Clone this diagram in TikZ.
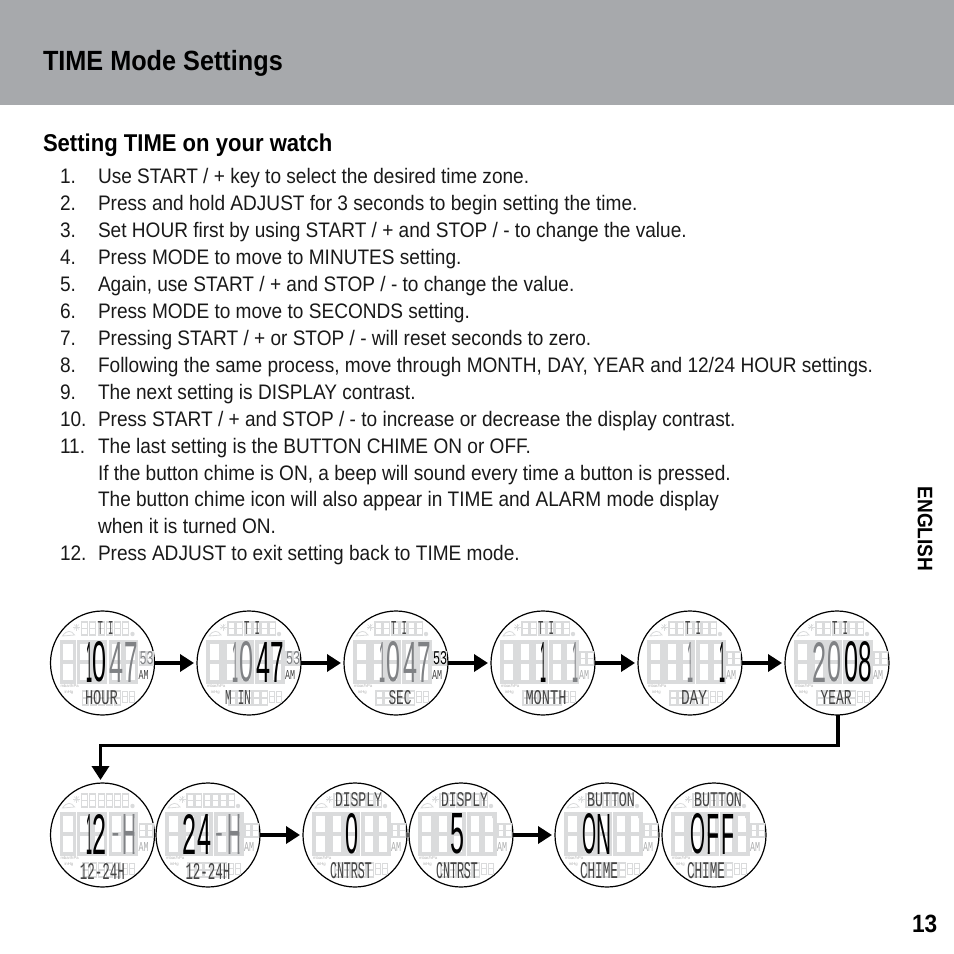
\documentclass[tikz,border=0pt]{standalone}
\usepackage{fontspec}
\usepackage{graphicx}
\usetikzlibrary{arrows.meta}
\newfontfamily\bodyf{Liberation Sans}[FakeStretch=0.908]
\newfontfamily\bigf{Liberation Sans}
\newfontfamily\lcdf{Liberation Mono}
\definecolor{hdr}{HTML}{A7A9AC}
\definecolor{gho}{HTML}{DADBDC}
\definecolor{mid}{HTML}{808285}
\definecolor{lab}{HTML}{454545}
\newcount\nn
\newcommand{\nid}{\global\advance\nn by 1 }
\tikzset{
  txt/.style={anchor=base west,inner sep=0pt,outer sep=0pt,font=\bodyf},
  body/.style={txt,font=\bodyf\fontsize{21}{25}\selectfont,text=black!90},
  face/.style={circle,draw=black,line width=1.2pt,fill=white,minimum size=104pt,inner sep=0pt,outer sep=0pt},
  arr/.style={line width=3.5pt,-{Triangle[length=14pt,width=17pt]},shorten >=3pt},
  ghostline/.style={draw=gho},
  lcdn/.style={inner sep=0pt,outer sep=0pt}
}
% ghost digit: x y w h linewidth
\newcommand{\geight}[5]{\draw[ghostline,line width=#5pt] (#1,#2) rectangle ++(#3,#4) (#1,#2+#4/2) -- ++(#3,0);}
% big digit: left x, width, colour, char
\newcommand{\bigd}[5][-1]{\nid\node[lcdn,anchor=west,name=n\the\nn] at (#2,#1) {\resizebox{#3pt}{40pt}{\color{#4}\bigf #5}};}
% dash in the big row: centre x
\newcommand{\bigdash}[1]{\nid\node[lcdn,name=n\the\nn,text=mid,font=\bigf\bfseries\fontsize{22}{22}\selectfont] at (#1,2) {-};}
% lcd text: centre x, centre y, w, h, colour, text
\newcommand{\lcd}[6]{\nid\node[lcdn,name=n\the\nn] at (#1,#2) {\resizebox{#3pt}{#4pt}{\color{#5}\lcdf #6}};}
% tiny text
\newcommand{\tinyt}[3]{\nid\node[lcdn,anchor=west,text=black!30,name=n\the\nn,font=\bigf\fontsize{4.2}{5}\selectfont] at (#1,#2) {#3};}
% base of a watch: name, cx, cy, colour of seconds, colour of AM
\newcommand{\watch}[5]{%
  \node[face] (#1) at (#2,#3) {};
  \begin{scope}[shift={(#2,#3)}]
    \foreach \gx in {-21,-13,-4,4,12,20}{\geight{\gx}{-41}{6.2}{13}{1.3}}
    \foreach \gx/\gw in {-41/13,-24/12,-9/12,8/12,22/12}{\geight{\gx}{-21}{\gw}{40}{3.4}}
    \foreach \gx in {37,44.5}{\geight{\gx}{-11}{6}{13}{1.3}}
    \foreach \gx in {-20,-12,-4,4,12}{\geight{\gx}{28}{6.2}{14}{1.3}}
    \foreach \gx in {20,27}{\geight{\gx}{28}{5.2}{11}{1}}
    \foreach \ga in {0,45,...,315}{\draw[gho,line width=.6pt] (-26,-36) -- ++(\ga:3.5);}
    \draw[gho,line width=.8pt] (-40,-27) .. controls (-36,-33) and (-31,-33) .. (-28,-28) -- cycle;
    \fill[gho] (30,-29) circle (2.2pt) (31,-21) rectangle (34,-17);
    \tinyt{-42}{23}{mbar/hPa}
    \tinyt{-38}{29}{inHg}
    \lcd{41}{12}{10}{9}{#5}{AM}
    \ifx\relax#4\relax\else\lcd{44}{-5}{14}{13}{#4}{53}\fi
  \end{scope}}
\begin{document}
\begin{tikzpicture}[x=1pt,y=-1pt]
\useasboundingbox (0,0) rectangle (954,954);
\fill[hdr] (0,0) rectangle (954,105);
\node[txt,font=\bodyf\bfseries\fontsize{27.8}{32}\selectfont] (title) at (43,70) {TIME Mode Settings};
\node[txt,font=\bodyf\bfseries\fontsize{24.3}{28}\selectfont] (sub) at (43,151) {Setting TIME on your watch};
\foreach \i/\yy/\tx in {
 1/183/{Use START / + key to select the desired time zone.},
 2/210/{Press and hold ADJUST for 3 seconds to begin setting the time.},
 3/237/{Set HOUR first by using START / + and STOP / - to change the value.},
 4/264/{Press MODE to move to MINUTES setting.},
 5/291/{Again, use START / + and STOP / - to change the value.},
 6/318/{Press MODE to move to SECONDS setting.},
 7/345/{Pressing START / + or STOP / - will reset seconds to zero.},
 8/372/{Following the same process, move through MONTH, DAY, YEAR and 12/24 HOUR settings.},
 9/399/{The next setting is DISPLAY contrast.},
 10/426/{Press START / + and STOP / - to increase or decrease the display contrast.},
 11/453/{The last setting is the BUTTON CHIME ON or OFF.},
 12/560/{Press ADJUST to exit setting back to TIME mode.}}{
  \node[body] (num\i) at (60,\yy) {\i.};
  \node[body] (line\i) at (98,\yy) {\tx};
}
\node[body] (more1) at (98,480) {If the button chime is ON, a beep will sound every time a button is pressed.};
\node[body] (more2) at (98,506) {The button chime icon will also appear in TIME and ALARM mode display};
\node[body] (more3) at (98,533) {when it is turned ON.};
\node[inner sep=0pt,rotate=-90,font=\bodyf\bfseries\fontsize{21}{26}\selectfont] (eng) at (925,529) {ENGLISH};
\node[txt,font=\bodyf\bfseries\fontsize{25}{28}\selectfont] (page) at (912,932) {13};
% Row 1
\watch{w1}{102.5}{663}{mid}{lab}
\watch{w2}{249}{663}{mid}{lab}
\watch{w3}{396}{663}{black}{lab}
\watch{w4}{543}{663}{}{gho!80!black}
\watch{w5}{690}{663}{}{gho!80!black}
\watch{w6}{837}{663}{}{gho!80!black}
\begin{scope}[shift={(102.5,663)}]
 \bigd{-16.5}{6}{black}{1}\bigd{-10}{14}{black}{0}\bigd{7}{14}{mid}{4}\bigd{21.5}{13.5}{mid}{7}
 \lcd{3}{-35}{16}{13}{lab}{T I}\lcd{-1}{34.5}{33}{14}{lab}{HOUR}
\end{scope}
\begin{scope}[shift={(249,663)}]
 \bigd{-16.5}{6}{mid}{1}\bigd{-10}{14}{mid}{0}\bigd{7}{14}{black}{4}\bigd{21.5}{13.5}{black}{7}
 \lcd{3}{-35}{16}{13}{lab}{T I}\lcd{-11}{34.5}{26}{14}{lab}{M IN}
\end{scope}
\begin{scope}[shift={(396,663)}]
 \bigd{-16.5}{6}{mid}{1}\bigd{-10}{14}{mid}{0}\bigd{7}{14}{mid}{4}\bigd{21.5}{13.5}{mid}{7}
 \lcd{3}{-35}{16}{13}{lab}{T I}\lcd{4}{34.5}{23}{14}{lab}{SEC}
\end{scope}
\begin{scope}[shift={(543,663)}]
 \bigd{-3}{6}{black}{1}\bigd{29}{6}{mid}{1}
 \lcd{3}{-35}{16}{13}{lab}{T I}\lcd{3}{34.5}{41}{14}{lab}{MONTH}
\end{scope}
\begin{scope}[shift={(690,663)}]
 \bigd{-3}{6}{mid}{1}\bigd{29}{6}{black}{1}
 \lcd{3}{-35}{16}{13}{lab}{T I}\lcd{4}{34.5}{26}{14}{lab}{DAY}
\end{scope}
\begin{scope}[shift={(837,663)}]
 \bigd{-25}{14}{mid}{2}\bigd{-10}{14}{mid}{0}\bigd{7}{14}{black}{0}\bigd{21.5}{13.5}{black}{8}
 \lcd{3}{-35}{16}{13}{lab}{T I}\lcd{-1}{34.5}{31}{14}{lab}{YEAR}
\end{scope}
% Row 2
\watch{w7}{102.5}{835}{}{gho!80!black}
\watch{w8}{208}{835}{}{gho!80!black}
\watch{w9}{355}{835}{}{gho!80!black}
\watch{w10}{461}{835}{}{gho!80!black}
\watch{w11}{607}{835}{}{gho!80!black}
\watch{w12}{714}{835}{}{gho!80!black}
\begin{scope}[shift={(102.5,835)}]
 \bigd{-16.5}{6}{black}{1}\bigd{-10}{14}{black}{2}\bigdash{13}\bigd{20}{14}{mid}{H}
 \lcd{0}{36}{45}{16}{lab}{12-24H}
\end{scope}
\begin{scope}[shift={(208,835)}]
 \bigd{-26}{14}{black}{2}\bigd{-11}{14}{black}{4}\bigdash{11}\bigd{19}{14}{mid}{H}
 \lcd{0}{36}{45}{16}{lab}{12-24H}
\end{scope}
\begin{scope}[shift={(355,835)}]
 \bigd{-10}{13}{black}{0}
 \lcd{3.5}{-35}{47}{14}{lab}{DISPLY}\lcd{-4}{36}{42}{16}{lab}{CNTRST}
\end{scope}
\begin{scope}[shift={(461,835)}]
 \bigd{-11}{14}{black}{5}
 \lcd{3.5}{-35}{47}{14}{lab}{DISPLY}\lcd{-4}{36}{42}{16}{lab}{CNTRST}
\end{scope}
\begin{scope}[shift={(607,835)}]
 \bigd{-25}{14}{black}{O}\bigd{-11}{15}{black}{N}
 \lcd{4}{-35}{48}{14}{lab}{BUTTON}\lcd{-8}{36}{38}{16}{lab}{CHIME}
\end{scope}
\begin{scope}[shift={(714,835)}]
 \bigd{-24}{15}{black}{O}\bigd{-8}{13}{black}{F}\bigd{7}{13}{black}{F}
 \lcd{4}{-35}{48}{14}{lab}{BUTTON}\lcd{-8}{36}{38}{16}{lab}{CHIME}
\end{scope}
% Connectors
\draw[arr] (w1) -- (w2);
\draw[arr] (w2) -- (w3);
\draw[arr] (w3) -- (w4);
\draw[arr] (w4) -- (w5);
\draw[arr] (w5) -- (w6);
\draw[arr] ([xshift=1pt]w6.south) -- ++(0,30.5) -| ([xshift=-2pt]w7.north);
\draw[arr] (w8) -- (w9);
\draw[arr] (w10) -- (w11);
\end{tikzpicture}
\end{document}
